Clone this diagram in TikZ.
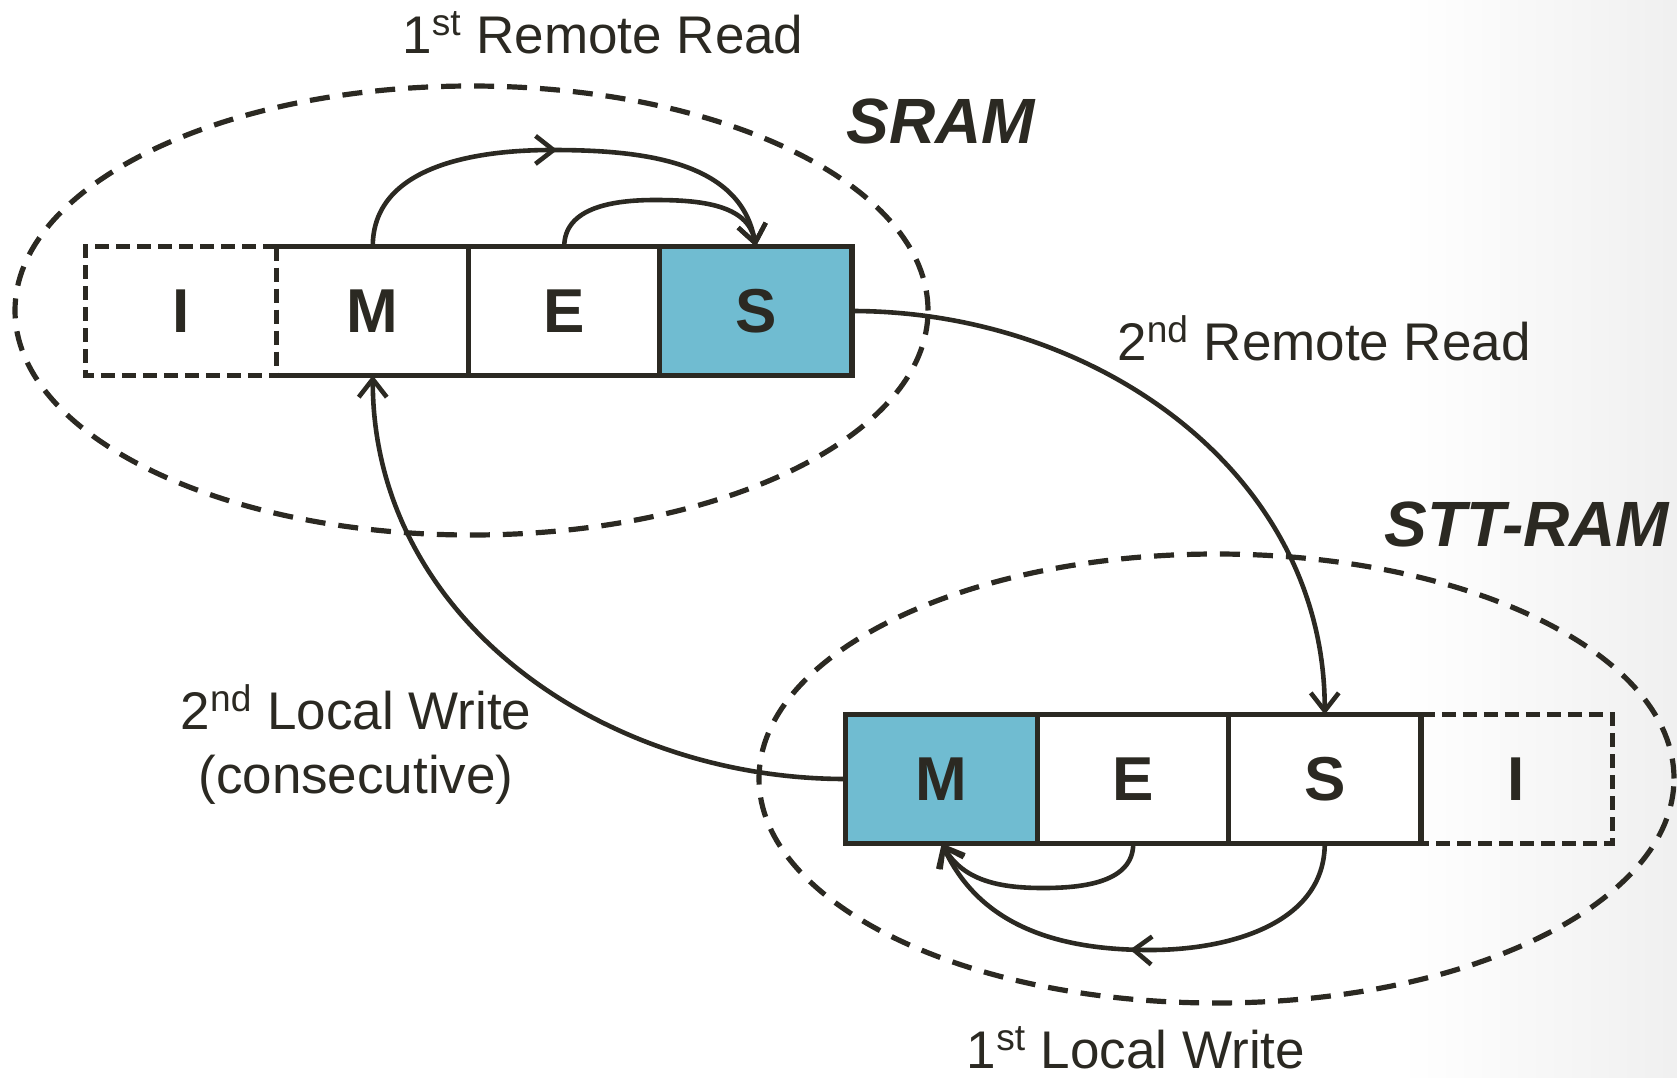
\documentclass[tikz,border=0pt]{standalone}
\usepackage{fontspec}
\setmainfont{Liberation Sans}
\usetikzlibrary{arrows.meta,shapes.geometric,decorations.markings}
\definecolor{ink}{HTML}{2B2922}
\definecolor{cellblue}{HTML}{70BCD1}
\begin{document}
\begin{tikzpicture}[x=0.5pt,y=-0.5pt,
  cell/.style={minimum width=95.75pt, minimum height=64pt, inner sep=0pt, text=ink,
     font=\bfseries\fontsize{31}{31}\selectfont},
  hot/.style={cell, fill=cellblue},
  lbl/.style={font=\fontsize{26.5}{32}\selectfont, text=ink, align=center},
  title/.style={font=\bfseries\itshape\fontsize{32}{32}\selectfont, text=ink},
  region/.style={ellipse, draw=ink, line width=2.6pt, dash pattern=on 10pt off 6.5pt, inner sep=0pt},
  boxline/.style={draw=ink, line width=2.6pt},
  boxdash/.style={draw=ink, line width=2.6pt, dash pattern=on 7pt off 3.5pt},
  conn/.style={draw=ink, line width=2.3pt, -{Straight Barb[length=9pt, width=14pt, line width=2.3pt]}},
  midarrow/.style={postaction={decorate}, decoration={markings,
     mark=at position #1 with {\arrow{Straight Barb[length=9pt, width=14pt, line width=2.3pt]}}}}
]
\useasboundingbox (0,0) rectangle (1677,1077);
\shade[left color=white, right color=black!6] (1400,0) rectangle (1677,1077);

% regions
\node[region, minimum width=456.5pt, minimum height=224.5pt] (sramreg) at (471.5,310.5) {};
\node[region, minimum width=457.5pt, minimum height=224.5pt] (sttreg) at (1216.5,778.5) {};

% top row (SRAM)
\node[cell] (tI) at (181.25,311) {I};
\node[cell] (tM) at (372.75,311) {M};
\node[cell] (tE) at (564.25,311) {E};
\node[hot]  (tS) at (755.75,311) {S};
\draw[boxline] (tM.north west) -- (tS.north east) -- (tS.south east) -- (tM.south west);
\draw[boxline] (tE.north west) -- (tE.south west);
\draw[boxline] (tS.north west) -- (tS.south west);
\draw[boxdash] (tM.north west) -- (tI.north west) -- (tI.south west) -- (tM.south west);
\draw[boxdash] (tM.north west) -- (tM.south west);

% bottom row (STT-RAM)
\node[hot]  (bM) at (941.75,779) {M};
\node[cell] (bE) at (1133.25,779) {E};
\node[cell] (bS) at (1324.75,779) {S};
\node[cell] (bI) at (1516.25,779) {I};
\draw[boxline] (bS.north east) -- (bM.north west) -- (bM.south west) -- (bS.south east) -- cycle;
\draw[boxline] (bE.north west) -- (bE.south west);
\draw[boxline] (bS.north west) -- (bS.south west);
\draw[boxdash] (bS.north east) -- (bI.north east) -- (bI.south east) -- (bS.south east);

% titles
\node[title] (sramT) at (941,121) {SRAM};
\node[title] (sttT) at (1527,524) {STT-RAM};

% labels
\node[lbl] (rr1) at (603,33) {1\textsuperscript{st} Remote Read};
\node[lbl] (rr2) at (1324,338) {2\textsuperscript{nd} Remote Read};
\node[lbl] (lw2) at (356,745) {2\textsuperscript{nd} Local Write\\(consecutive)};
\node[lbl] (lw1) at (1136,1048) {1\textsuperscript{st} Local Write};

% connectors
\coordinate (p1) at (552,150);
\coordinate (p2) at (655,200);
\coordinate (q1) at (1150,950);
\coordinate (q2) at (1043,888);

\draw[conn, midarrow=0.49] (tM.north) to[out=90,in=180] (p1) to[out=0,in=100] (tS.north);
\draw[conn] (tE.north) to[out=90,in=180] (p2) to[out=0,in=100] (tS.north);
\draw[conn] (tS.east) to[out=0,in=90] (bS.north);
\draw[conn] (bM.west) to[out=180,in=-90] (tM.south);
\draw[conn] (bE.south) to[out=-90,in=0] (q2) to[out=180,in=-60] (bM.south);
\draw[conn, midarrow=0.52] (bS.south) to[out=-90,in=0] (q1) to[out=180,in=-65] (bM.south);
\end{tikzpicture}
\end{document}
